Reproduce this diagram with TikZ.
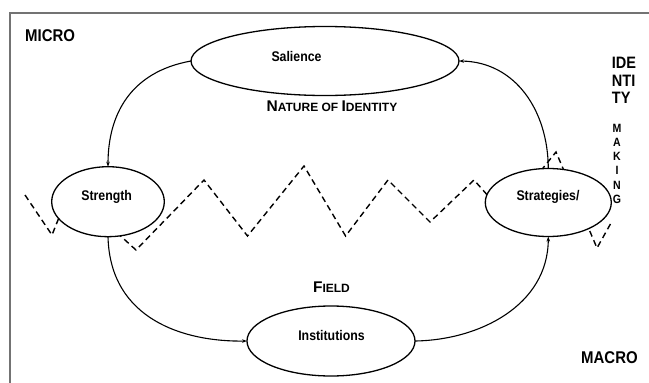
\documentclass[tikz,border=0pt]{standalone}
\usepackage{fontspec}
\setmainfont{Liberation Sans Bold}[FakeStretch=0.88]
\newfontfamily\scfont{Liberation Sans Bold}
\usetikzlibrary{shapes.geometric,arrows.meta}
\newcommand{\fsz}[1]{\fontsize{#1}{#1}\selectfont}
\newcommand{\Lg}[1]{{\fsz{15.5}#1}}
\newcommand{\Sm}[1]{{\fsz{12}#1}}
\tikzset{
  oval/.style={ellipse,draw=black,line width=1.3pt,fill=white,inner sep=0pt,outer sep=0pt},
  lbl/.style={font=\fsz{14},inner sep=0pt,anchor=base},
  big/.style={font=\fsz{17},inner sep=0pt,anchor=base west},
  scl/.style={font=\scfont,inner sep=0pt,anchor=base},
  mk/.style={font=\fsz{12},inner sep=0pt,anchor=base},
  flow/.style={line width=1.1pt,-{Stealth[length=5pt,width=3.5pt]}},
  zig/.style={line width=1.4pt,dash pattern=on 6pt off 4pt,line join=miter},
  frame/.style={draw=black!55,line width=1.2pt}
}
\begin{document}
\begin{tikzpicture}[x=1pt,y=-1pt]
\useasboundingbox (0,0) rectangle (649,383);
% frame
\coordinate (fa) at (10,390);
\coordinate (fb) at (10,13);
\coordinate (fc) at (655,13);
\draw[frame] (fa) -- (fb) -- (fc);
% dashed zigzag
\draw[zig] (25,195) -- (52,235) -- (70,190) -- (136,250) -- (204,180) -- (247.5,236)
  -- (304,166) -- (345.6,236) -- (388,180) -- (430,222) -- (474,180) -- (505,215)
  -- (556,152) -- (597,248) -- (611,223);
% ellipses
\node[oval,minimum width=268pt,minimum height=69pt] (sal) at (325,61) {};
\node[oval,minimum width=112.6pt,minimum height=70pt] (str) at (108,201.7) {};
\node[oval,minimum width=126pt,minimum height=68pt] (stg) at (548.3,202.5) {};
\node[oval,minimum width=168pt,minimum height=70pt] (ins) at (331,341) {};
% arrows
\draw[flow] (sal.west) .. controls (130,72) and (108,115) .. (str.north);
\draw[flow] (str.south) .. controls (110,320) and (185,342) .. (ins.west);
\draw[flow] (ins.east) .. controls (480,340) and (548,305) .. (stg.south);
\draw[flow] (stg.north) .. controls (548,110) and (515,62) .. (sal.east);
% labels
\node[lbl] (tsal) at (296.5,61) {Salience};
\node[lbl] (tstr) at (106.7,200) {Strength};
\node[lbl] (tstg) at (548,200) {Strategies/};
\node[lbl] (tins) at (331.5,340) {Institutions};
\node[big] (micro) at (25,41.5) {MICRO};
\node[big] (macro) at (581,363.3) {MACRO};
\node[scl] (nat) at (332,111.7) {\Lg{N}\Sm{ATURE OF }\Lg{I}\Sm{DENTITY}};
\node[scl] (fld) at (331.5,292.7) {\Lg{F}\Sm{IELD}};
\node[big,font=\fsz{16.5}] (id1) at (611.7,68.3) {IDE};
\node[big,font=\fsz{16.5}] (id2) at (611.7,86) {NTI};
\node[big,font=\fsz{16.5}] (id3) at (611.7,103.3) {TY};
\foreach \c [count=\i from 0] in {M,A,K,I,N,G}
  \node[mk] (mk\i) at (617,132.3+14.2*\i) {\c};
\end{tikzpicture}
\end{document}
